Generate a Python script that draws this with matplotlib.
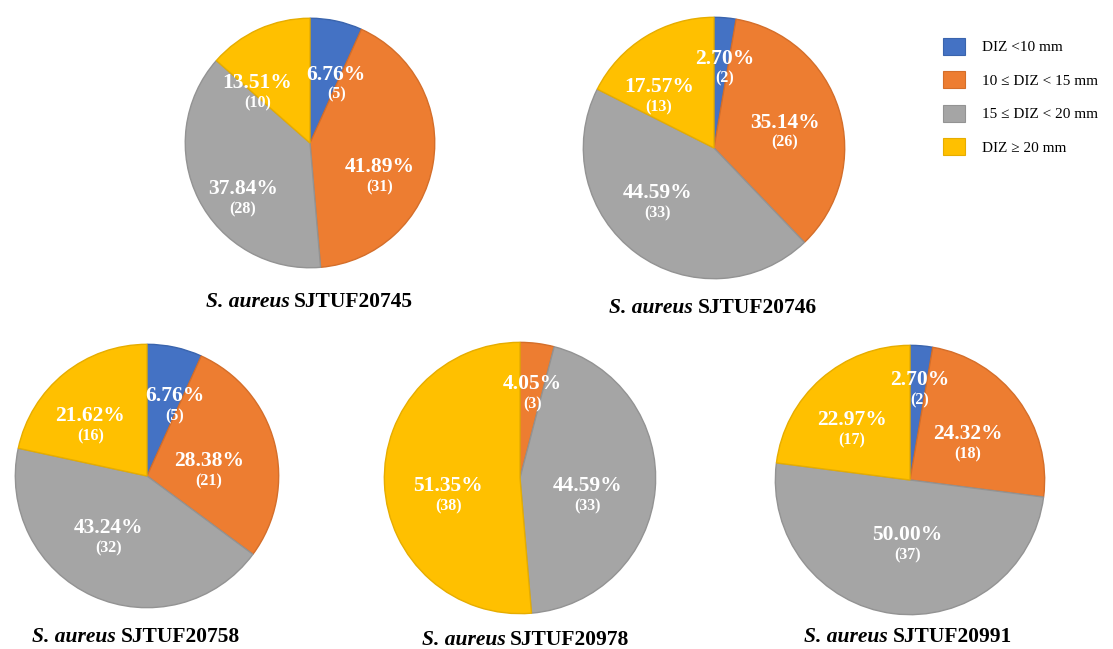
import matplotlib.pyplot as plt
from matplotlib.patches import Patch
from matplotlib.offsetbox import TextArea, HPacker, AnnotationBbox

plt.rcParams['font.family'] = ['Liberation Serif', 'DejaVu Serif']

# data
categories = ['DIZ <10 mm', '10 ≤ DIZ < 15 mm', '15 ≤ DIZ < 20 mm', 'DIZ ≥ 20 mm']
strains = ['SJTUF20745', 'SJTUF20746', 'SJTUF20758', 'SJTUF20978', 'SJTUF20991']
counts_20745 = [5, 31, 28, 10]
counts_20746 = [2, 26, 33, 13]
counts_20758 = [5, 21, 32, 16]
counts_20978 = [0, 3, 33, 38]
counts_20991 = [2, 18, 37, 17]
all_counts = [counts_20745, counts_20746, counts_20758, counts_20978, counts_20991]

colors = ['#4472C4', '#ED7D31', '#A5A5A5', '#FFC000']
edge_colors = ['#3a64ad', '#d46e2a', '#939393', '#e6ad00']

# layout (pixels): pie centre x, y, radius; title x, y
W, H = 1113, 649
pie_layout = [(310, 143, 126), (714, 148, 132), (147, 476, 133), (520, 478, 137), (910, 480, 136)]
title_layout = [(309, 302), (713, 308), (136, 637), (526, 640), (908, 637)]
# label centres in units of the radius
label_xy = [
    [(0.21, 0.47), (0.56, -0.27), (-0.54, -0.45), (-0.42, 0.40)],
    [(0.08, 0.61), (0.54, 0.12), (-0.43, -0.42), (-0.42, 0.39)],
    [(0.21, 0.53), (0.47, 0.04), (-0.29, -0.47), (-0.43, 0.38)],
    [None, (0.09, 0.62), (0.50, -0.13), (-0.53, -0.13)],
    [(0.07, 0.67), (0.43, 0.27), (-0.02, -0.48), (-0.43, 0.37)],
]

fig = plt.figure(figsize=(W / 100, H / 100), dpi=100)

for i, counts in enumerate(all_counts):
    cx, cy, r = pie_layout[i]
    ax = fig.add_axes([(cx - r) / W, 1 - (cy + r) / H, 2 * r / W, 2 * r / H])
    wedges, _ = ax.pie(counts, colors=colors, startangle=90, counterclock=False,
                       wedgeprops=dict(linewidth=1.0))
    for w, ec in zip(wedges, edge_colors):
        w.set_edgecolor(ec)
    ax.set_xlim(-1.01, 1.01)
    ax.set_ylim(-1.01, 1.01)
    ax.axis('off')

    total = sum(counts)
    for j, c in enumerate(counts):
        if c == 0:
            continue
        x, y = label_xy[i][j]
        ax.annotate('%.2f%%' % (c / total * 100), xy=(x, y), xytext=(0, 7),
                    textcoords='offset points', ha='center', va='center',
                    color='white', fontsize=15.5, fontweight='bold')
        ax.annotate('(%d)' % c, xy=(x, y), xytext=(0, -7.5),
                    textcoords='offset points', ha='center', va='center',
                    color='white', fontsize=11.5, fontweight='bold')

    # title
    tx, ty = title_layout[i]
    box = HPacker(children=[
        TextArea('S. aureus', textprops=dict(fontsize=15.5, style='italic', fontweight='bold', color='black')),
        TextArea('SJTUF' + strains[i][5:], textprops=dict(fontsize=15.5, fontweight='bold', color='black')),
    ], align='baseline', pad=0, sep=3)
    ab = AnnotationBbox(box, (tx / W, 1 - ty / H), xycoords='figure fraction',
                        frameon=False, box_alignment=(0.5, 0.5), pad=0)
    fig.add_artist(ab)

# legend
handles = [Patch(facecolor=c, edgecolor=ec, linewidth=0.8) for c, ec in zip(colors, edge_colors)]
fig.legend(handles, categories, loc='upper left', bbox_to_anchor=(943 / W, 1 - 38 / H),
           frameon=False, fontsize=11, handlelength=1.45, handleheight=1.3,
           labelspacing=1.1, handletextpad=1.1, borderpad=0, borderaxespad=0)

fig.savefig('out.png', dpi=100, facecolor='white')
